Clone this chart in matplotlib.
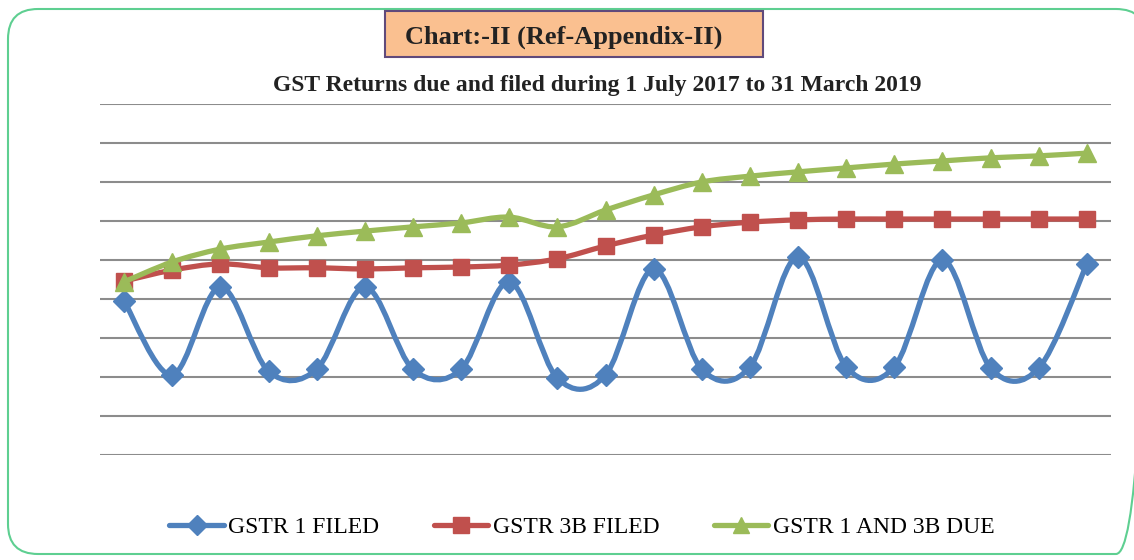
import matplotlib
matplotlib.use("Agg")
import matplotlib.pyplot as plt
from matplotlib.path import Path
from matplotlib.patches import PathPatch, FancyBboxPatch, Rectangle
from matplotlib.lines import Line2D
import numpy as np

plt.rcParams['font.family'] = ['Liberation Serif', 'DejaVu Serif']

# months July 2017 .. March 2019 (no axis labels shown in the chart)
months = list(range(21))

gstr1_filed = [3.95, 2.05, 4.31, 2.15, 2.2, 4.31, 2.2, 2.2, 4.44, 1.97, 2.05,
               4.77, 2.2, 2.26, 5.08, 2.26, 2.26, 5.0, 2.23, 2.23, 4.9]
gstr3b_filed = [4.46, 4.74, 4.9, 4.8, 4.8, 4.77, 4.8, 4.82, 4.87, 5.03, 5.36,
                5.64, 5.85, 5.97, 6.03, 6.05, 6.05, 6.05, 6.05, 6.05, 6.05]
gstr_due = [4.44, 4.95, 5.28, 5.46, 5.62, 5.74, 5.85, 5.95, 6.1, 5.85, 6.28,
            6.67, 7.0, 7.15, 7.26, 7.36, 7.46, 7.54, 7.62, 7.67, 7.74]

labels = ['GSTR 1 FILED', 'GSTR 3B FILED', 'GSTR 1 AND 3B DUE']
colors = ['#4F81BD', '#C0504D', '#9BBB59']
markers = ['D', 's', '^']
msizes = [11, 12, 13]


def smooth_path(x, y):
    # Excel style smoothed line: cubic bezier through the points
    pts = np.column_stack([x, y]).astype(float)
    n = len(pts)
    verts = [pts[0]]
    codes = [Path.MOVETO]
    for i in range(n - 1):
        p0 = pts[i - 1] if i > 0 else pts[i]
        p1 = pts[i]
        p2 = pts[i + 1]
        p3 = pts[i + 2] if i + 2 < n else pts[i + 1]
        c1 = p1 + (p2 - p0) / 6.0
        c2 = p2 - (p3 - p1) / 6.0
        verts += [c1, c2, p2]
        codes += [Path.CURVE4] * 3
    return Path(verts, codes)


fig = plt.figure(figsize=(11.34, 5.6), dpi=100)

# background layer in pixel units for the frame and heading box
bg = fig.add_axes([0, 0, 1, 1], zorder=-1)
bg.set_xlim(0, 1134)
bg.set_ylim(560, 0)
bg.axis('off')
bg.add_patch(FancyBboxPatch((8, 9), 1138, 545,
                            boxstyle="round,pad=0,rounding_size=30",
                            facecolor='none', edgecolor='#5ECF91', linewidth=1.5))
bg.add_patch(Rectangle((385, 11), 378, 46, facecolor='#FAC090',
                       edgecolor='#604A7B', linewidth=1.5))
bg.text(564, 37, 'Chart:-II (Ref-Appendix-II)', ha='center', va='center',
        fontsize=19, fontweight='bold', color='#222222')
bg.text(597, 85, 'GST Returns due and filed during 1 July 2017 to 31 March 2019',
        ha='center', va='center', fontsize=17, fontweight='bold', color='#222222')

ax = fig.add_axes([100 / 1134, 1 - 455 / 560, 1011 / 1134, 351 / 560])
ax.set_xlim(-0.5, 20.5)
ax.set_ylim(0, 9)
ax.patch.set_alpha(0)
for s in ax.spines.values():
    s.set_visible(False)
ax.set_xticks([])
ax.set_yticks(range(10))
ax.tick_params(left=False, labelleft=False)
ax.yaxis.grid(True, color='#8C8C8C', linewidth=1.5)
ax.set_axisbelow(True)

handles = []
for k, ys in enumerate([gstr1_filed, gstr3b_filed, gstr_due]):
    patch = PathPatch(smooth_path(months, ys), facecolor='none',
                      edgecolor=colors[k], linewidth=3.8, zorder=3 + k * 2,
                      capstyle='round', joinstyle='round')
    ax.add_patch(patch)
    ax.plot(months, ys, linestyle='none', marker=markers[k], ms=msizes[k],
            color=colors[k], zorder=4 + k * 2, clip_on=False)
    handles.append(Line2D([], [], color=colors[k], linewidth=3.8,
                          marker=markers[k], ms=msizes[k] - 1,
                          solid_capstyle='round'))

fig.legend(handles, labels, loc='center', bbox_to_anchor=(582 / 1134, 1 - 527 / 560),
           ncol=3, frameon=False, fontsize=17, handlelength=2.3,
           columnspacing=2.3, handletextpad=0.2)

fig.savefig('out.png', dpi=100)
